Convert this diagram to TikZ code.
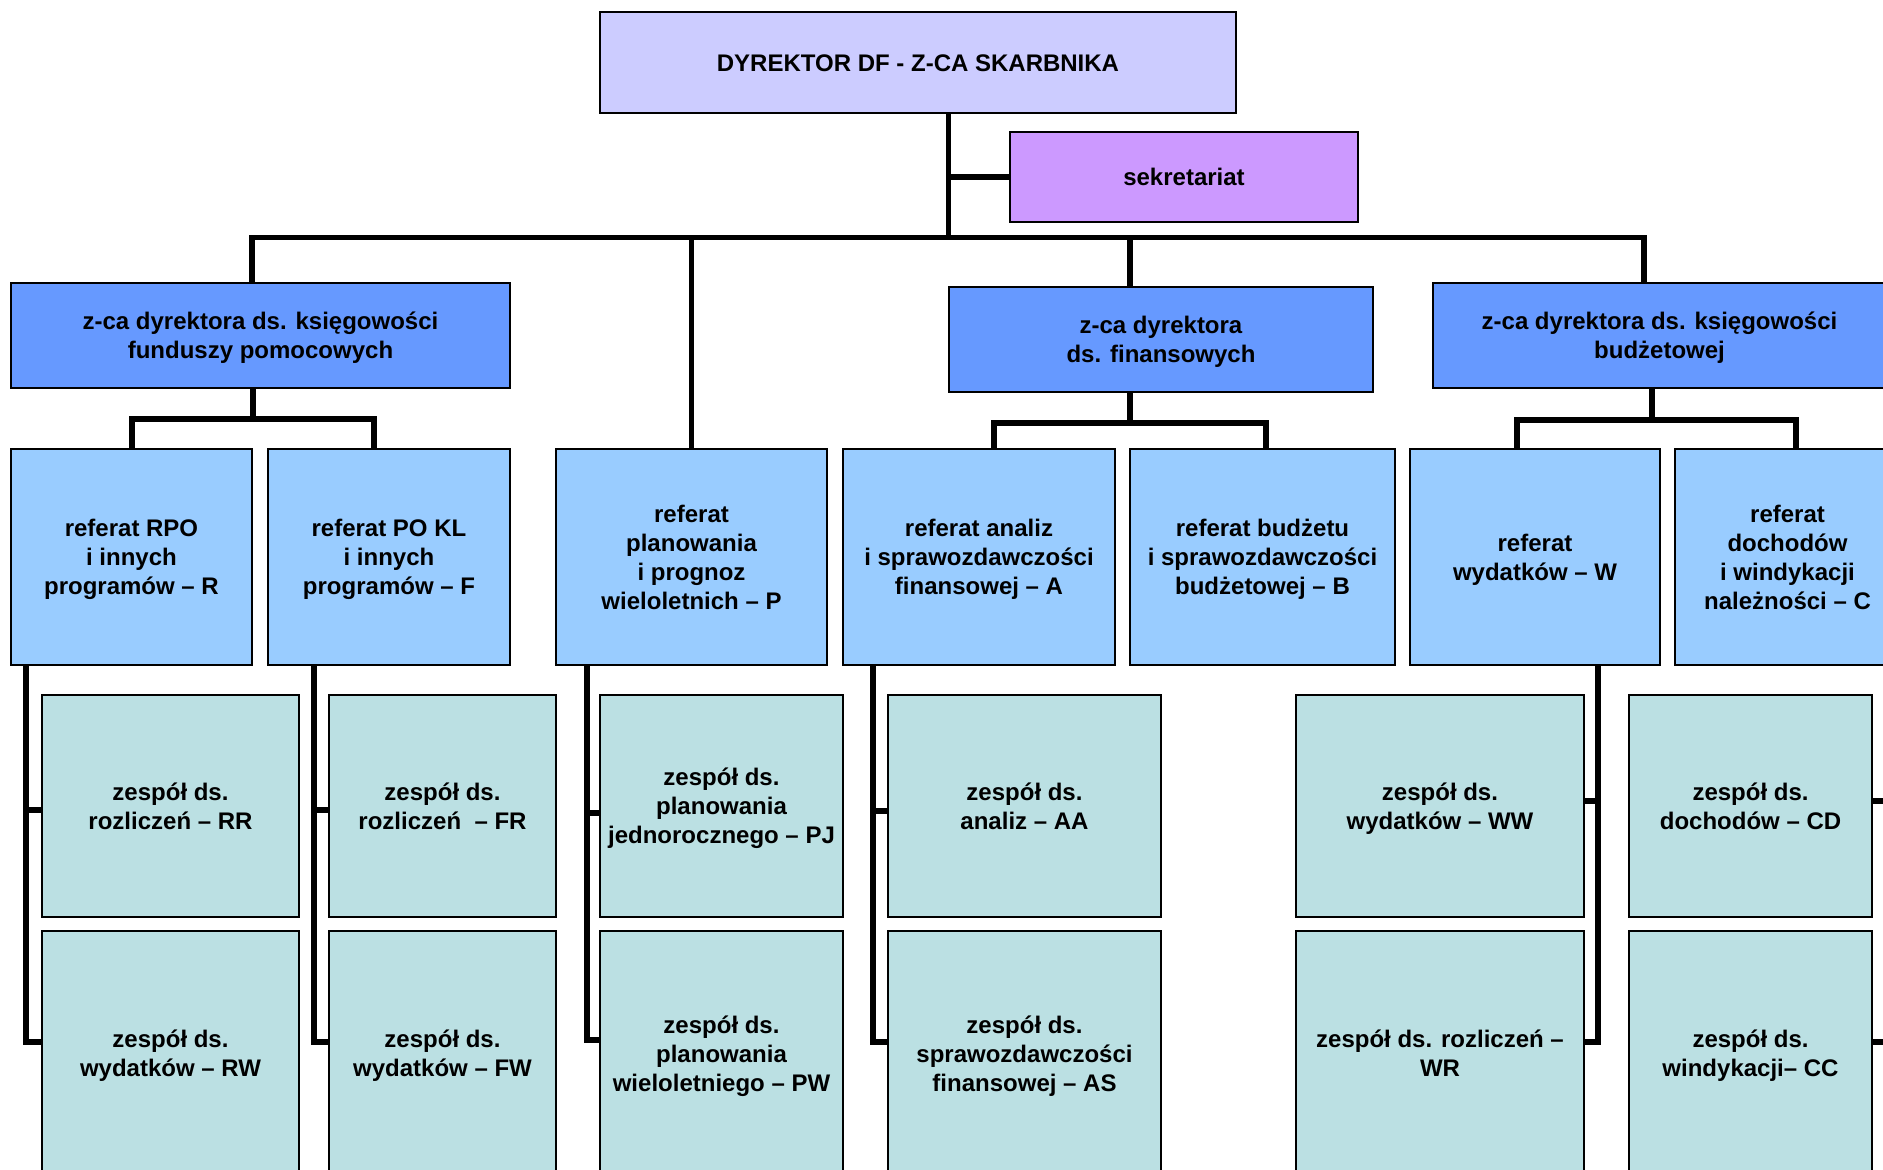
\documentclass[tikz,border=0pt]{standalone}
\usepackage{fontspec}
\setmainfont{Liberation Sans}
\definecolor{cTop}{HTML}{CCCCFF}
\definecolor{cSek}{HTML}{CC99FF}
\definecolor{cDep}{HTML}{6699FF}
\definecolor{cRef}{HTML}{99CCFF}
\definecolor{cTeam}{HTML}{BBE0E3}
\newcommand\sr{\rule[-5.75pt]{0pt}{29pt}}
\tikzset{
  box/.style={draw=black, line width=1.3pt, inner sep=0pt, outer sep=0pt, align=center,
    font=\bfseries\fontsize{24}{29}\selectfont, text=black},
  conn/.style={draw=black, line width=5.5pt, line join=miter}
}
\begin{document}
\begin{tikzpicture}[x=1pt,y=-1pt]
\useasboundingbox (0,0) rectangle (1883,1170);
\clip (0,0) rectangle (1883,1170);
\fill[white] (0,0) rectangle (1883,1170);

% top level
\node[box, fill=cTop, minimum width=636, minimum height=101] (top) at (918,62.5) {\sr DYREKTOR DF - Z-CA SKARBNIKA};
\node[box, fill=cSek, minimum width=348, minimum height=90] (sek) at (1184,177) {\sr sekretariat};

% deputies
\node[box, fill=cDep, minimum width=499, minimum height=105] (depL) at (260.5,335.5) {\sr z-ca dyrektora ds. księgowości\\\sr funduszy pomocowych};
\node[box, fill=cDep, minimum width=424, minimum height=105] (depF) at (1161,339.5) {\sr z-ca dyrektora\\\sr ds. finansowych};
\node[box, fill=cDep, minimum width=453, minimum height=105] (depR) at (1659.5,335.5) {\sr z-ca dyrektora ds. księgowości\\\sr budżetowej};

% referaty
\node[box, fill=cRef, minimum width=241, minimum height=216] (refR) at (131.5,557) {\sr referat RPO\\\sr i innych\\\sr programów – R};
\node[box, fill=cRef, minimum width=242, minimum height=216] (refF) at (389,557) {\sr referat PO KL\\\sr i innych\\\sr programów – F};
\node[box, fill=cRef, minimum width=271, minimum height=216] (refP) at (691.5,557) {\sr referat\\\sr planowania\\\sr i prognoz\\\sr wieloletnich – P};
\node[box, fill=cRef, minimum width=272, minimum height=216] (refA) at (979,557) {\sr referat analiz\\\sr i sprawozdawczości\\\sr finansowej – A};
\node[box, fill=cRef, minimum width=265, minimum height=216] (refB) at (1262.5,557) {\sr referat budżetu\\\sr i sprawozdawczości\\\sr budżetowej – B};
\node[box, fill=cRef, minimum width=250, minimum height=216] (refW) at (1535,557) {\sr referat\\\sr wydatków – W};
\node[box, fill=cRef, minimum width=225, minimum height=216] (refC) at (1787.5,557) {\sr referat\\\sr dochodów\\\sr i windykacji\\\sr należności – C};

% zespoly top row
\node[box, fill=cTeam, minimum width=257, minimum height=222] (RR) at (170.5,806) {\sr zespół ds.\\\sr rozliczeń – RR};
\node[box, fill=cTeam, minimum width=227, minimum height=222] (FR) at (442.5,806) {\sr zespół ds.\\\sr rozliczeń \ – FR};
\node[box, fill=cTeam, minimum width=243, minimum height=222] (PJ) at (721.5,806) {\sr zespół ds.\\\sr planowania\\\sr jednorocznego – PJ};
\node[box, fill=cTeam, minimum width=273, minimum height=222] (AA) at (1024.5,806) {\sr zespół ds.\\\sr analiz – AA};
\node[box, fill=cTeam, minimum width=288, minimum height=222] (WW) at (1440,806) {\sr zespół ds.\\\sr wydatków – WW};
\node[box, fill=cTeam, minimum width=243, minimum height=222] (CD) at (1750.5,806) {\sr zespół ds.\\\sr dochodów – CD};

% zespoly bottom row
\node[box, fill=cTeam, minimum width=257, minimum height=245] (RW) at (170.5,1053.5) {\sr zespół ds.\\\sr wydatków – RW};
\node[box, fill=cTeam, minimum width=227, minimum height=245] (FW) at (442.5,1053.5) {\sr zespół ds.\\\sr wydatków – FW};
\node[box, fill=cTeam, minimum width=243, minimum height=245] (PW) at (721.5,1053.5) {\sr zespół ds.\\\sr planowania\\\sr wieloletniego – PW};
\node[box, fill=cTeam, minimum width=273, minimum height=245] (AS) at (1024.5,1053.5) {\sr zespół ds.\\\sr sprawozdawczości\\\sr finansowej – AS};
\node[box, fill=cTeam, minimum width=288, minimum height=245] (WR) at (1440,1053.5) {\sr zespół ds. rozliczeń –\\\sr WR};
\node[box, fill=cTeam, minimum width=243, minimum height=245] (CC) at (1750.5,1053.5) {\sr zespół ds.\\\sr windykacji– CC};

% ---- connectors ----
\coordinate (trunk) at (948.5,237.5);
\coordinate (bL) at (252,237.5);
\coordinate (bR) at (1644,237.5);
\coordinate (fx) at (1130,240);
\draw[conn] (top.south -| trunk) -- (trunk);
\draw[conn] (trunk |- sek.west) -- (sek.west);
\draw[conn] (depL.north -| bL) -- (bL) -- (bR) -- (depR.north -| bR);
\draw[conn] (refP.north) -- (refP.north |- bL);
\draw[conn] (fx) -- (fx |- depF.north);

% sub-buses
\coordinate (sL) at (253,419);
\coordinate (sLa) at (132,419);
\coordinate (sLb) at (374,419);
\draw[conn] (depL.south -| sL) -- (sL);
\draw[conn] (refR.north -| sLa) -- (sLa) -- (sLb) -- (refF.north -| sLb);

\coordinate (sF) at (1130,423);
\coordinate (sFa) at (994,423);
\coordinate (sFb) at (1266,423);
\draw[conn] (depF.south -| sF) -- (sF);
\draw[conn] (refA.north -| sFa) -- (sFa) -- (sFb) -- (refB.north -| sFb);

\coordinate (sR) at (1652,420);
\coordinate (sRa) at (1517,420);
\coordinate (sRb) at (1796,420);
\draw[conn] (depR.south -| sR) -- (sR);
\draw[conn] (refW.north -| sRa) -- (sRa) -- (sRb) -- (refC.north -| sRb);

% team connectors
\coordinate (cR1) at (26,810); \coordinate (cR2) at (26,1042);
\draw[conn] (refR.south -| cR1) -- (cR2) -- (RW.west |- cR2);
\draw[conn] (cR1) -- (RR.west |- cR1);

\coordinate (cF1) at (314,810); \coordinate (cF2) at (314,1042);
\draw[conn] (refF.south -| cF1) -- (cF2) -- (FW.west |- cF2);
\draw[conn] (cF1) -- (FR.west |- cF1);

\coordinate (cP1) at (587,813); \coordinate (cP2) at (587,1040);
\draw[conn] (refP.south -| cP1) -- (cP2) -- (PW.west |- cP2);
\draw[conn] (cP1) -- (PJ.west |- cP1);

\coordinate (cA1) at (873,811); \coordinate (cA2) at (873,1042);
\draw[conn] (refA.south -| cA1) -- (cA2) -- (AS.west |- cA2);
\draw[conn] (cA1) -- (AA.west |- cA1);

\coordinate (cW1) at (1598,801); \coordinate (cW2) at (1598,1042);
\draw[conn] (refW.south -| cW1) -- (cW2) -- (WR.east |- cW2);
\draw[conn] (cW1) -- (WW.east |- cW1);

\coordinate (cC1) at (1892,801); \coordinate (cC2) at (1892,1042);
\draw[conn] (refC.south -| cC1) -- (cC2) -- (CC.east |- cC2);
\draw[conn] (cC1) -- (CD.east |- cC1);
\end{tikzpicture}
\end{document}
